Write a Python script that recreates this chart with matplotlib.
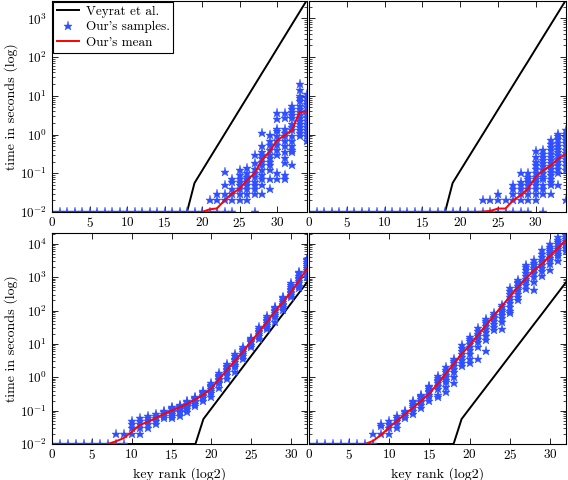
import matplotlib
matplotlib.use('Agg')
import matplotlib.pyplot as plt
from matplotlib.ticker import LogLocator, NullLocator, FixedLocator

plt.rcParams['font.family'] = 'cmr10'
plt.rcParams['mathtext.fontset'] = 'cm'
plt.rcParams['axes.formatter.use_mathtext'] = True

# key ranks (x axis), one entry per column of samples
ranks_top = [0, 1, 2, 3, 4, 5, 6, 7, 8, 9, 10, 11, 12, 13, 14, 15, 16, 17,
             18, 19, 20, 21, 22, 23, 24, 25, 26, 27, 28, 29, 30, 31, 32, 33, 34]
ranks_bot = ranks_top[:33]

# Veyrat et al. (same reference curve in every panel)
veyrat = [0.01, 0.01, 0.01, 0.01, 0.01, 0.01, 0.01, 0.01, 0.01, 0.01,
          0.01, 0.01, 0.01, 0.01, 0.01, 0.01, 0.01, 0.01, 0.01, 0.056,
          0.116, 0.24, 0.495, 1.02, 2.11, 4.37, 9.0, 18.6, 38.5, 79,
          164, 339, 700, 1445, 2985]

# top left
tl_samples = [
    [0.01], [0.01], [0.01], [0.01], [0.01], [0.01], [0.01], [0.01], [0.01], [0.01],
    [0.01], [0.01], [0.01], [0.01], [0.01], [0.01], [0.01], [0.01], [0.01], [0.01],
    [0.01],
    [0.01, 0.02],
    [0.01, 0.02, 0.03],
    [0.01, 0.02, 0.03, 0.05, 0.11],
    [0.01, 0.02, 0.03, 0.04, 0.06, 0.07],
    [0.02, 0.03, 0.04, 0.05, 0.06, 0.07, 0.09, 0.12],
    [0.02, 0.03, 0.04, 0.05, 0.06, 0.07, 0.08, 0.1, 0.14],
    [0.01, 0.03, 0.04, 0.05, 0.06, 0.08, 0.1, 0.13, 0.18, 0.3],
    [0.03, 0.05, 0.07, 0.09, 0.12, 0.16, 0.2, 0.25, 0.3, 0.35, 0.5, 1.1],
    [0.04, 0.07, 0.12, 0.16, 0.2, 0.25, 0.3, 0.4, 0.55, 0.7, 1.0],
    [0.07, 0.1, 0.3, 0.4, 0.55, 0.7, 0.9, 1.2, 1.4, 2.5, 3.5],
    [0.07, 0.09, 0.18, 0.25, 0.35, 0.5, 0.7, 0.9, 1.1, 1.4, 2.6, 3.5],
    [0.16, 0.36, 0.4, 0.5, 0.7, 0.9, 1.3, 1.6, 1.9, 2.6, 3.1, 3.8, 4.6, 5.6],
    [0.9, 1.1, 1.3, 1.6, 1.9, 2.3, 2.6, 3.1, 3.8, 4.6, 5.6, 7.5, 9, 10, 14, 20],
    [0.7, 0.9, 1.1, 1.3, 1.6, 1.9, 2.3, 2.8, 3.4, 4, 5, 6, 7.5, 9, 11],
]
tl_mean = [0.01, 0.01, 0.01, 0.01, 0.01, 0.01, 0.01, 0.01, 0.01, 0.01,
           0.01, 0.01, 0.01, 0.01, 0.01, 0.01, 0.01, 0.01, 0.01, 0.01,
           0.01, 0.0117, 0.0124, 0.02, 0.03, 0.04, 0.066, 0.1, 0.22, 0.36,
           0.71, 0.95, 1.3, 3.8, 3.9]

# top right
tr_samples = [
    [0.01], [0.01], [0.01], [0.01], [0.01], [0.01], [0.01], [0.01], [0.01], [0.01],
    [0.01], [0.01], [0.01], [0.01], [0.01], [0.01], [0.01], [0.01], [0.01], [0.01],
    [0.01], [0.01], [0.01],
    [0.01, 0.02],
    [0.01, 0.02],
    [0.01, 0.02, 0.03],
    [0.01, 0.02],
    [0.01, 0.02, 0.03, 0.04, 0.05],
    [0.01, 0.02, 0.03, 0.04, 0.05, 0.06, 0.1],
    [0.01, 0.02, 0.03, 0.04, 0.05, 0.06, 0.07, 0.08, 0.1],
    [0.02, 0.03, 0.04, 0.05, 0.06, 0.07, 0.08, 0.1, 0.13, 0.16, 0.2, 0.27, 0.37],
    [0.01, 0.03, 0.04, 0.05, 0.07, 0.08, 0.1, 0.12, 0.15, 0.18, 0.22, 0.27, 0.32, 0.39],
    [0.03, 0.05, 0.06, 0.07, 0.09, 0.11, 0.13, 0.15, 0.18, 0.22, 0.27, 0.32, 0.39,
     0.48, 0.58, 0.71],
    [0.05, 0.1, 0.13, 0.16, 0.2, 0.24, 0.3, 0.36, 0.43, 0.52, 0.62, 0.75, 0.9, 1.05],
    [0.02, 0.12, 0.15, 0.19, 0.23, 0.28, 0.34, 0.41, 0.5, 0.6, 0.72, 0.87, 1.05, 1.28],
]
tr_mean = [0.01, 0.01, 0.01, 0.01, 0.01, 0.01, 0.01, 0.01, 0.01, 0.01,
           0.01, 0.01, 0.01, 0.01, 0.01, 0.01, 0.01, 0.01, 0.01, 0.01,
           0.01, 0.01, 0.01, 0.0102, 0.0107, 0.0123, 0.0123, 0.02, 0.027, 0.041,
           0.081, 0.12, 0.16, 0.24, 0.32]

# bottom left
bl_samples = [
    [0.01], [0.01], [0.01], [0.01], [0.01], [0.01], [0.01], [0.01],
    [0.01, 0.02],
    [0.01, 0.02],
    [0.02, 0.03, 0.04, 0.05],
    [0.02, 0.03, 0.04, 0.05, 0.06],
    [0.03, 0.04, 0.05, 0.06, 0.07],
    [0.04, 0.05, 0.06, 0.07, 0.08],
    [0.06, 0.07, 0.08, 0.09, 0.1],
    [0.06, 0.07, 0.08, 0.09, 0.1, 0.11, 0.12, 0.13],
    [0.07, 0.09, 0.1, 0.11, 0.12, 0.13, 0.14, 0.15],
    [0.09, 0.11, 0.13, 0.14, 0.15, 0.16, 0.18, 0.2],
    [0.14, 0.16, 0.18, 0.2, 0.22, 0.24, 0.26],
    [0.2, 0.24, 0.28, 0.3, 0.33, 0.36, 0.4],
    [0.25, 0.33, 0.4, 0.45, 0.5, 0.55, 0.6, 0.65],
    [0.47, 0.66, 0.7, 0.8, 0.9, 1.0, 1.1, 1.2, 1.3],
    [0.9, 1.2, 1.4, 1.6, 1.8, 2.0, 2.2, 2.5],
    [1.4, 2.0, 2.4, 2.8, 3.2, 3.6, 4.2, 5.0],
    [3.5, 4.2, 5.0, 5.8, 6.5, 7.2, 8.0],
    [8, 9.5, 11, 12, 13, 14, 15],
    [14, 17, 20, 22, 25, 28, 32],
    [28, 33, 38, 42, 47, 52, 58, 70],
    [46, 62, 72, 85, 95, 105, 115, 125],
    [105, 125, 145, 160, 180, 200, 230, 260],
    [260, 290, 330, 360, 400, 450, 520, 600, 650],
    [460, 550, 650, 750, 850, 950, 1100, 1300, 1440],
    [1020, 1250, 1450, 1650, 1850, 2100, 2400, 2800, 3300, 3600],
]
bl_mean = [0.01, 0.01, 0.01, 0.01, 0.01, 0.01, 0.01, 0.01, 0.012, 0.015,
           0.023, 0.037, 0.046, 0.06, 0.078, 0.1, 0.125, 0.16, 0.22, 0.3,
           0.47, 0.9, 1.7, 3.2, 6, 12, 23, 46, 95, 180,
           360, 800, 1800]

# bottom right
br_samples = [
    [0.01], [0.01], [0.01], [0.01], [0.01], [0.01], [0.01], [0.01],
    [0.01, 0.02],
    [0.02, 0.035, 0.04],
    [0.02, 0.03, 0.04, 0.05],
    [0.03, 0.04, 0.05, 0.06, 0.07],
    [0.06, 0.07, 0.08, 0.09, 0.1],
    [0.08, 0.1, 0.12, 0.14, 0.16, 0.18, 0.2],
    [0.12, 0.15, 0.18, 0.2, 0.22, 0.25, 0.28, 0.3],
    [0.2, 0.25, 0.3, 0.35, 0.4, 0.45, 0.5, 0.55],
    [0.25, 0.3, 0.45, 0.55, 0.65, 0.75, 0.85, 0.95, 1.1],
    [0.37, 0.52, 0.7, 0.85, 1.0, 1.2, 1.4, 1.7, 2.0],
    [0.66, 1.03, 1.4, 1.8, 2.2, 2.6, 3.0, 3.6],
    [2.1, 2.6, 3.2, 4.0, 5.0, 6.0, 7.5, 9.1],
    [2.6, 3.6, 5, 6.5, 8, 10, 12, 14, 16],
    [3.6, 8, 11, 14, 17, 20, 24, 29],
    [6.3, 13, 17, 22, 28, 35, 42, 50, 57],
    [26, 32, 40, 50, 58, 66, 74, 82],
    [28, 45, 60, 75, 90, 105, 125, 145],
    [85, 100, 130, 170, 210, 260, 320, 390, 460],
    [200, 250, 320, 400, 480, 560, 650, 730, 810],
    [450, 600, 750, 900, 1100, 1300, 1600, 2000, 2300],
    [410, 700, 1000, 1300, 1600, 1900, 2300, 2700, 3200],
    [1100, 1500, 1900, 2300, 2800, 3300, 4000, 5000, 6500],
    [1600, 2500, 3200, 3800, 4500, 5200, 6000, 7000, 8000, 10000],
    [3000, 4200, 5000, 6000, 7000, 8000, 9500, 11000, 13000, 16000],
    [6000, 7500, 9000, 10500, 12000, 14000, 16000, 18000, 20000],
]
br_mean = [0.01, 0.01, 0.01, 0.01, 0.01, 0.01, 0.01, 0.01, 0.0125, 0.019,
           0.032, 0.05, 0.08, 0.125, 0.2, 0.33, 0.63, 1.25, 2.5, 5,
           9, 18, 35, 70, 135, 260, 500, 900, 1600, 2500,
           4300, 7500, 13000]

star_blue = '#3050ff'


def draw(ax, ranks, samples, mean):
    ax.plot(ranks, veyrat[:len(ranks)], color='black', lw=1.4, label='Veyrat et al.')
    sx = [r for r, col in zip(ranks, samples) for v in col]
    sy = [v for col in samples for v in col]
    ax.plot(sx, sy, ls='none', marker='*', ms=6.5, color=star_blue, mew=0.3,
            label="Our's samples.")
    ax.plot(ranks, mean, color='red', lw=1.4, label="Our's mean")
    ax.set_yscale('log')
    ax.xaxis.set_major_locator(FixedLocator([0, 5, 10, 15, 20, 25, 30]))
    ax.xaxis.set_minor_locator(NullLocator())
    ax.yaxis.set_major_locator(LogLocator(base=10, numticks=20))
    ax.yaxis.set_minor_locator(LogLocator(base=10, subs=(2, 3, 4, 5, 6, 7, 8, 9), numticks=20))
    ax.tick_params(which='both', direction='in', top=True, right=True, labelsize=9.5)
    ax.tick_params(which='major', length=4, width=0.6)
    ax.tick_params(which='minor', length=2.2, width=0.5)
    ax.tick_params(axis='x', pad=3)
    for s in ax.spines.values():
        s.set_linewidth(0.8)


fig = plt.figure(figsize=(5.68, 4.8), dpi=100)
W, H = 568.0, 480.0
ax_tl = fig.add_axes([52 / W, 1 - 212 / H, 255 / W, 211 / H])
ax_tr = fig.add_axes([309 / W, 1 - 212 / H, 257 / W, 211 / H])
ax_bl = fig.add_axes([52 / W, 1 - 444 / H, 255 / W, 211 / H])
ax_br = fig.add_axes([309 / W, 1 - 444 / H, 257 / W, 211 / H])

draw(ax_tl, ranks_top, tl_samples, tl_mean)
draw(ax_tr, ranks_top, tr_samples, tr_mean)
draw(ax_bl, ranks_bot, bl_samples, bl_mean)
draw(ax_br, ranks_bot, br_samples, br_mean)

for ax in (ax_tl, ax_tr):
    ax.set_xlim(0, 34)
    ax.set_ylim(0.01, 2800)
for ax in (ax_bl, ax_br):
    ax.set_xlim(0, 32)
    ax.set_ylim(0.01, 21000)
for ax in (ax_tr, ax_br):
    ax.tick_params(labelleft=False)

for ax in (ax_tl, ax_bl):
    ax.set_ylabel('time in seconds (log)', fontsize=10)
    ax.yaxis.set_label_coords(-0.135, 0.5)
for ax in (ax_bl, ax_br):
    ax.set_xlabel('key rank (log2)', fontsize=10)
    ax.xaxis.set_label_coords(0.5, -0.11)

leg = ax_tl.legend(loc='upper left', borderaxespad=0.05, fancybox=False,
                   edgecolor='black', framealpha=1, fontsize=9.5,
                   handlelength=1.7, labelspacing=0.25, borderpad=0.3,
                   handletextpad=0.5)
leg.get_frame().set_linewidth(0.8)

fig.savefig('out.png', dpi=100)
